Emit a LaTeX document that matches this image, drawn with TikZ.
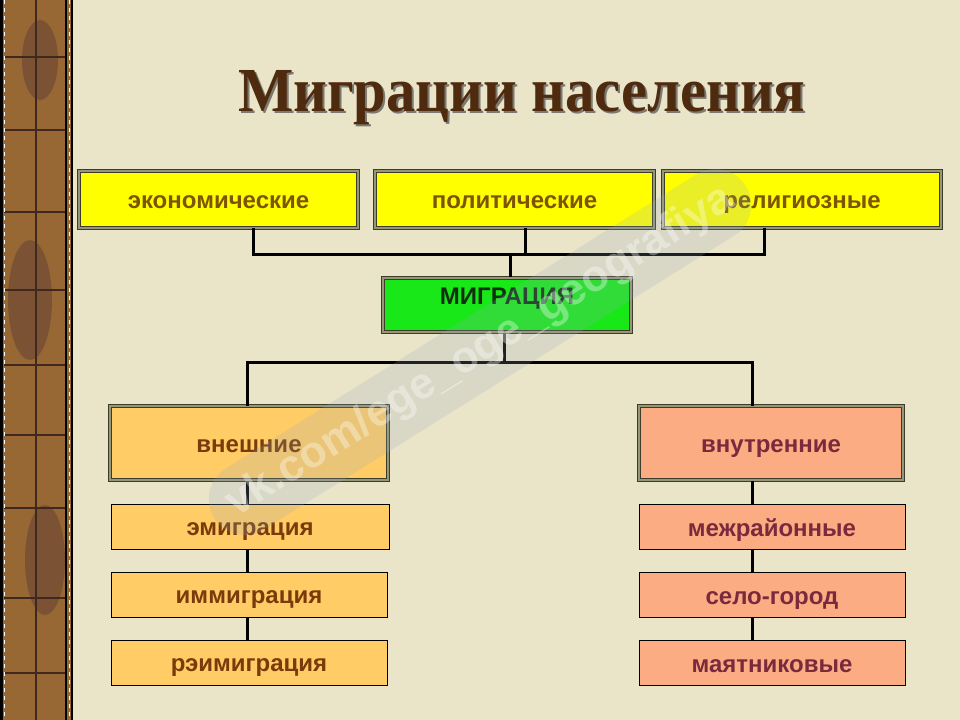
\documentclass[tikz,border=0pt]{standalone}
\usepackage{fontspec}
\setmainfont{Liberation Serif}
\newfontfamily\boxfont{Liberation Sans}

\definecolor{paper}{RGB}{234,228,201}
\definecolor{strip}{RGB}{152,104,52}
\definecolor{stripdark}{RGB}{105,68,52}
\definecolor{titlecol}{RGB}{78,42,14}
\definecolor{ybox}{RGB}{255,255,0}
\definecolor{ytext}{RGB}{125,85,0}
\definecolor{gbox}{RGB}{24,232,24}
\definecolor{gtext}{RGB}{16,48,16}
\definecolor{obox}{RGB}{255,204,102}
\definecolor{otext}{RGB}{122,58,10}
\definecolor{sbox}{RGB}{252,172,130}
\definecolor{stext}{RGB}{122,42,60}
\definecolor{frame}{RGB}{60,60,40}
\definecolor{framemid}{RGB}{150,150,120}
\definecolor{wmark}{RGB}{150,172,190}

\begin{document}
\begin{tikzpicture}[x=0.75pt, y=-0.75pt, line width=1pt,
  box/.style={rectangle, inner sep=0pt, text height=13.5pt, text depth=0pt,
    font=\boxfont\bfseries\fontsize{18}{20}\selectfont},
  dbox/.style={box, draw=frame, double=framemid, double distance=1.5pt, line width=0.75pt},
  subbox/.style={box, draw=black, line width=0.75pt, minimum height=33.75pt},
  heading/.style={anchor=base, xscale=0.935, font=\bfseries\fontsize{47}{50}\selectfont},
  link/.style={line width=2.25pt, black}]

\useasboundingbox (0,0) rectangle (960,720);
\fill[paper] (0,0) rectangle (960,720);

% left strip
\fill[strip] (0,0) rectangle (72,720);
\fill[stripdark, opacity=0.6] (40,60) ellipse (18 and 40);
\fill[stripdark, opacity=0.6] (30,300) ellipse (22 and 60);
\fill[stripdark, opacity=0.6] (45,560) ellipse (20 and 55);
\draw[stripdark!60!black, line width=1pt] (36,0)--(36,720);
\foreach \y in {57,130,212,290,365,435,508,598,673}
  \draw[stripdark!60!black, line width=1pt] (4,\y)--(67,\y);
\draw[black, line width=2.25pt] (1.5,0)--(1.5,720);
\draw[white, dashed, line width=0.75pt] (4.5,0)--(4.5,720);
\draw[black, line width=1.5pt] (66,0)--(66,720);
\draw[white, dashed, line width=0.75pt] (69,0)--(69,720);
\draw[black, line width=1.5pt] (72,0)--(72,720);

\node[heading, text=black!70, opacity=0.7] (titleshadow) at (524,114) {Миграции населения};
\node[heading, text=titlecol] (title) at (522,112) {Миграции населения};

\node[dbox, fill=ybox, text=ytext, minimum width=209.25pt, minimum height=42.75pt] (eco) at (218.5,199.5) {экономические};
\node[dbox, fill=ybox, text=ytext, minimum width=209.25pt, minimum height=42.75pt] (pol) at (514.5,199.5) {политические};
\node[dbox, fill=ybox, text=ytext, minimum width=208.5pt, minimum height=42.75pt] (rel) at (802,199.5) {религиозные};

\node[dbox, fill=gbox, text=gtext, minimum width=186pt, minimum height=40.5pt, text height=9pt, text depth=10.3pt] (mig) at (507,305) {МИГРАЦИЯ};

\node[dbox, fill=obox, text=otext, minimum width=208.5pt, minimum height=55.5pt] (ext) at (249,443) {внешние};
\node[dbox, fill=sbox, text=stext, minimum width=198pt, minimum height=55.5pt] (int) at (771,443) {внутренние};

\node[subbox, fill=obox, text=otext, minimum width=208.5pt] (emig) at (250,526.5) {эмиграция};
\node[subbox, fill=obox, text=otext, minimum width=207pt] (immig) at (249,594.5) {иммиграция};
\node[subbox, fill=obox, text=otext, minimum width=207pt] (remig) at (249,662.5) {рэимиграция};

\node[subbox, fill=sbox, text=stext, minimum width=199.5pt] (reg) at (772,527) {межрайонные};
\node[subbox, fill=sbox, text=stext, minimum width=199.5pt] (town) at (772,595) {село-город};
\node[subbox, fill=sbox, text=stext, minimum width=199.5pt] (pend) at (772,663) {маятниковые};

% connectors
\coordinate (t1) at (253,255);
\coordinate (t2) at (525,255);
\coordinate (t3) at (764,255);
\coordinate (tm) at (510,255);
\coordinate (bm) at (504,362);
\coordinate (bl) at (247,362);
\coordinate (br) at (752,362);

\draw[link] (eco.south -| t1)--(t1)--(t3)--(rel.south -| t3);
\draw[link] (pol.south -| t2)--(t2);
\draw[link] (tm)--(mig.north -| tm);
\draw[link] (mig.south -| bm)--(bm);
\draw[link] (ext.north -| bl)--(bl)--(br)--(int.north -| br);

\foreach \a/\b in {ext/emig, emig/immig, immig/remig}
  \draw[link] (\a.south -| bl)--(\b.north -| bl);
\foreach \a/\b in {int/reg, reg/town, town/pend}
  \draw[link] (\a.south -| br)--(\b.north -| br);

% watermark
\node[rotate=32, minimum width=470pt, minimum height=54pt, rounded corners=27pt,
  fill=wmark, fill opacity=0.2, text=white, text opacity=0.35,
  font=\boxfont\bfseries\fontsize{33}{33}\selectfont] (watermark) at (480,352) {vk.com/ege\_oge\_geografiya};

\end{tikzpicture}
\end{document}
